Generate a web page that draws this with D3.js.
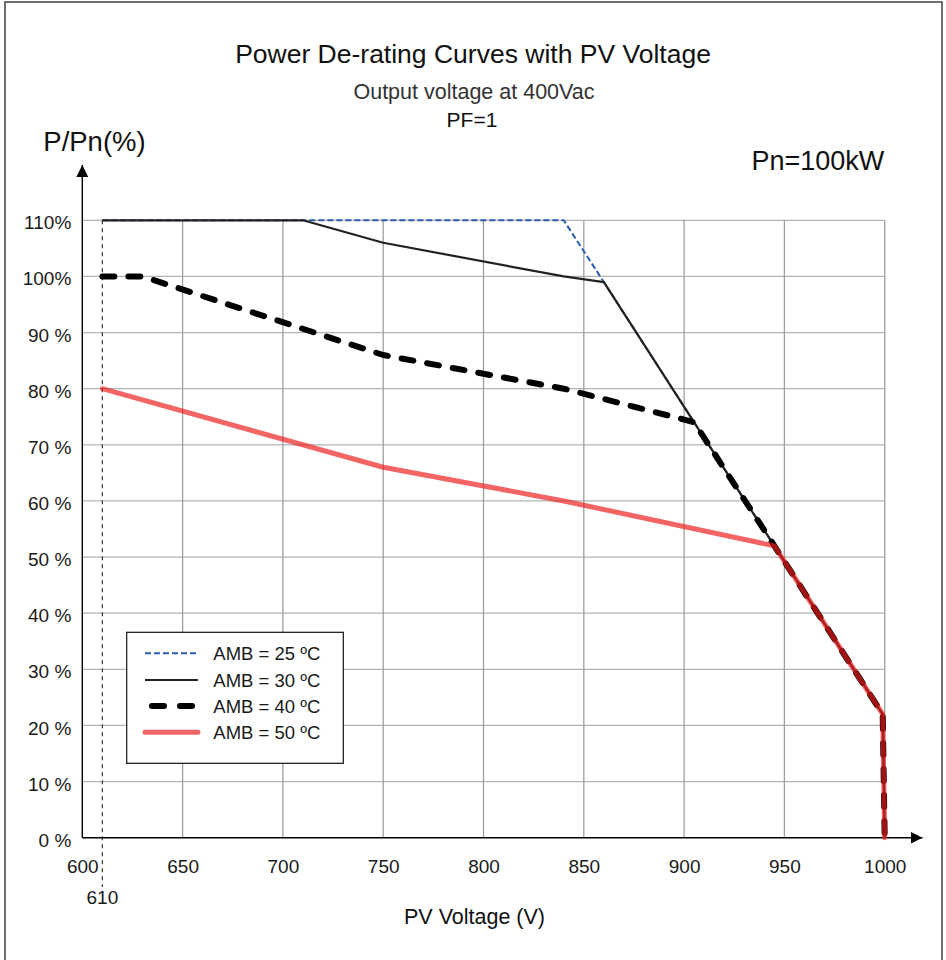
<!DOCTYPE html>
<html>
<head>
<meta charset="utf-8">
<script src="https://cdn.jsdelivr.net/npm/d3@7/dist/d3.min.js"></script>
<style>
  html, body { margin: 0; padding: 0; background: #fff; }
  svg { display: block; font-family: "Liberation Sans", Arial, sans-serif; }
</style>
</head>
<body>
<svg id="chart" width="946" height="960"></svg>
<script>
// Tick values and labels
const voltageTicks = [600, 650, 700, 750, 800, 850, 900, 950, 1000];
const pctTicks = [0, 10, 20, 30, 40, 50, 60, 70, 80, 90, 100, 110];
const pctLabels = ["0 %", "10 %", "20 %", "30 %", "40 %", "50 %", "60 %", "70 %", "80 %", "90 %", "100%", "110%"];
const minVoltage = 610;

// De-rating curves: [PV voltage (V), P/Pn (%)]
const amb25 = [[610, 110], [840, 110], [860, 99], [905, 74], [945, 52], [999, 22], [1000, 0]];
const amb30 = [[610, 110], [710, 110], [750, 106], [840, 100], [860, 99], [905, 74], [945, 52], [999, 22], [1000, 0]];
const amb40 = [[610, 100], [630, 100], [750, 86], [840, 80], [900, 74.5], [905, 74], [945, 52], [999, 22], [1000, 0]];
const amb50 = [[610, 80], [750, 66], [840, 60], [945, 52], [999, 22], [1000, 0]];

const seriesNames = ["AMB = 25 ºC", "AMB = 30 ºC", "AMB = 40 ºC", "AMB = 50 ºC"];

const svg = d3.select("#chart");

// Outer frame
svg.append("rect")
  .attr("x", 5).attr("y", 2).attr("width", 937).attr("height", 1000)
  .attr("fill", "none").attr("stroke", "#404040").attr("stroke-width", 1.5);

const x = d3.scaleLinear().domain([600, 1000]).range([82.3, 884.7]);
const y = d3.scaleLinear().domain([0, 110]).range([837.7, 220.3]);

// Grid
const grid = svg.append("g");
grid.selectAll("line.h").data(pctTicks.filter(d => d > 0)).join("line")
  .attr("class", "h")
  .attr("x1", x(600)).attr("x2", x(1000))
  .attr("y1", d => y(d)).attr("y2", d => y(d))
  .attr("stroke", "#b3b3b3").attr("stroke-width", 1.3);
grid.selectAll("line.v").data(voltageTicks.filter(d => d > 600)).join("line")
  .attr("class", "v")
  .attr("x1", d => x(d)).attr("x2", d => x(d))
  .attr("y1", y(0)).attr("y2", y(110))
  .attr("stroke", "#9e9e9e").attr("stroke-width", 1.3);

// Minimum voltage marker
svg.append("line")
  .attr("x1", x(minVoltage)).attr("x2", x(minVoltage))
  .attr("y1", y(110)).attr("y2", 887)
  .attr("stroke", "#444").attr("stroke-width", 1.3)
  .attr("stroke-dasharray", "4,4");

// Axes
const xAxis = d3.axisBottom(x).tickValues(voltageTicks).tickSize(0).tickPadding(22).tickFormat(d3.format("d"));
const gx = svg.append("g").attr("transform", `translate(0,${y(0)})`).call(xAxis);
gx.select(".domain").remove();
gx.selectAll("text").attr("font-size", 19).attr("fill", "#1a1a1a").attr("font-family", "Liberation Sans, Arial, sans-serif");

const yAxis = d3.axisLeft(y).tickValues(pctTicks).tickSize(0).tickPadding(11)
  .tickFormat((d, i) => pctLabels[i]);
const gy = svg.append("g").attr("transform", `translate(${x(600)},0)`).call(yAxis);
gy.select(".domain").remove();
gy.selectAll("text").attr("font-size", 19).attr("fill", "#1a1a1a").attr("dy", "0.45em").attr("font-family", "Liberation Sans, Arial, sans-serif");

svg.append("text")
  .attr("x", x(minVoltage)).attr("y", 904)
  .attr("text-anchor", "middle").attr("font-size", 19).attr("fill", "#1a1a1a")
  .text(String(minVoltage));

// Axis lines with arrows
svg.append("defs").append("marker")
  .attr("id", "arrow").attr("viewBox", "0 0 10 10")
  .attr("refX", 10).attr("refY", 5)
  .attr("markerWidth", 12).attr("markerHeight", 12)
  .attr("markerUnits", "userSpaceOnUse")
  .attr("orient", "auto")
  .append("path").attr("d", "M0,0 L10,5 L0,10 Z").attr("fill", "#000");

svg.append("line")
  .attr("x1", x(600)).attr("x2", 922.5)
  .attr("y1", y(0)).attr("y2", y(0))
  .attr("stroke", "#000").attr("stroke-width", 1.4)
  .attr("marker-end", "url(#arrow)");
svg.append("line")
  .attr("x1", x(600)).attr("x2", x(600))
  .attr("y1", y(0)).attr("y2", 165)
  .attr("stroke", "#000").attr("stroke-width", 1.4)
  .attr("marker-end", "url(#arrow)");

// Curves
const line = d3.line().x(d => x(d[0])).y(d => y(d[1]));
const styles = [
  { stroke: "#2a5db0", width: 2, dash: "6,3", cap: "butt", opacity: 1 },
  { stroke: "#222", width: 2.2, dash: null, cap: "butt", opacity: 1 },
  { stroke: "#000", width: 6, dash: "12,14", cap: "round", opacity: 1 },
  { stroke: "#ee1c1c", width: 5, dash: null, cap: "round", opacity: 0.68 }
];
const allSeries = [amb25, amb30, amb40, amb50];

svg.append("g").selectAll("path").data(allSeries).join("path")
  .attr("d", line)
  .attr("fill", "none")
  .attr("stroke", (d, i) => styles[i].stroke)
  .attr("stroke-width", (d, i) => styles[i].width)
  .attr("stroke-dasharray", (d, i) => styles[i].dash)
  .attr("stroke-linecap", (d, i) => styles[i].cap)
  .attr("stroke-linejoin", "round")
  .attr("stroke-opacity", (d, i) => styles[i].opacity);

// Legend
const legend = svg.append("g");
legend.append("rect")
  .attr("x", 126.7).attr("y", 632.3).attr("width", 216.6).attr("height", 131)
  .attr("fill", "#fff").attr("stroke", "#111").attr("stroke-width", 1.2);
const rowY = [653.3, 680, 706, 732.3];
seriesNames.forEach((name, i) => {
  const s = styles[i];
  legend.append("line")
    .attr("x1", i === 2 ? 152 : 145).attr("x2", i === 2 ? 195 : 198)
    .attr("y1", rowY[i]).attr("y2", rowY[i])
    .attr("stroke", s.stroke).attr("stroke-width", s.width)
    .attr("stroke-dasharray", i === 2 ? "12,16" : s.dash)
    .attr("stroke-linecap", s.cap)
    .attr("stroke-opacity", s.opacity);
  legend.append("text")
    .attr("x", 213.3).attr("y", rowY[i]).attr("dy", "0.36em")
    .attr("font-size", 18.5).attr("fill", "#1a1a1a")
    .text(name);
});

// Titles
svg.append("text").attr("x", 473).attr("y", 63)
  .attr("text-anchor", "middle").attr("font-size", 26.5).attr("fill", "#111")
  .text("Power De-rating Curves with PV Voltage");
svg.append("text").attr("x", 474).attr("y", 99)
  .attr("text-anchor", "middle").attr("font-size", 21.5).attr("fill", "#333")
  .text("Output voltage at 400Vac");
svg.append("text").attr("x", 472).attr("y", 127)
  .attr("text-anchor", "middle").attr("font-size", 21).attr("fill", "#111")
  .text("PF=1");
svg.append("text").attr("x", 43.3).attr("y", 151)
  .attr("font-size", 27.5).attr("fill", "#111")
  .text("P/Pn(%)");
svg.append("text").attr("x", 884.3).attr("y", 170)
  .attr("text-anchor", "end").attr("font-size", 27).attr("fill", "#111")
  .text("Pn=100kW");
svg.append("text").attr("x", 474.5).attr("y", 924.3)
  .attr("text-anchor", "middle").attr("font-size", 21.5).attr("fill", "#111")
  .text("PV Voltage (V)");
</script>
</body>
</html>
